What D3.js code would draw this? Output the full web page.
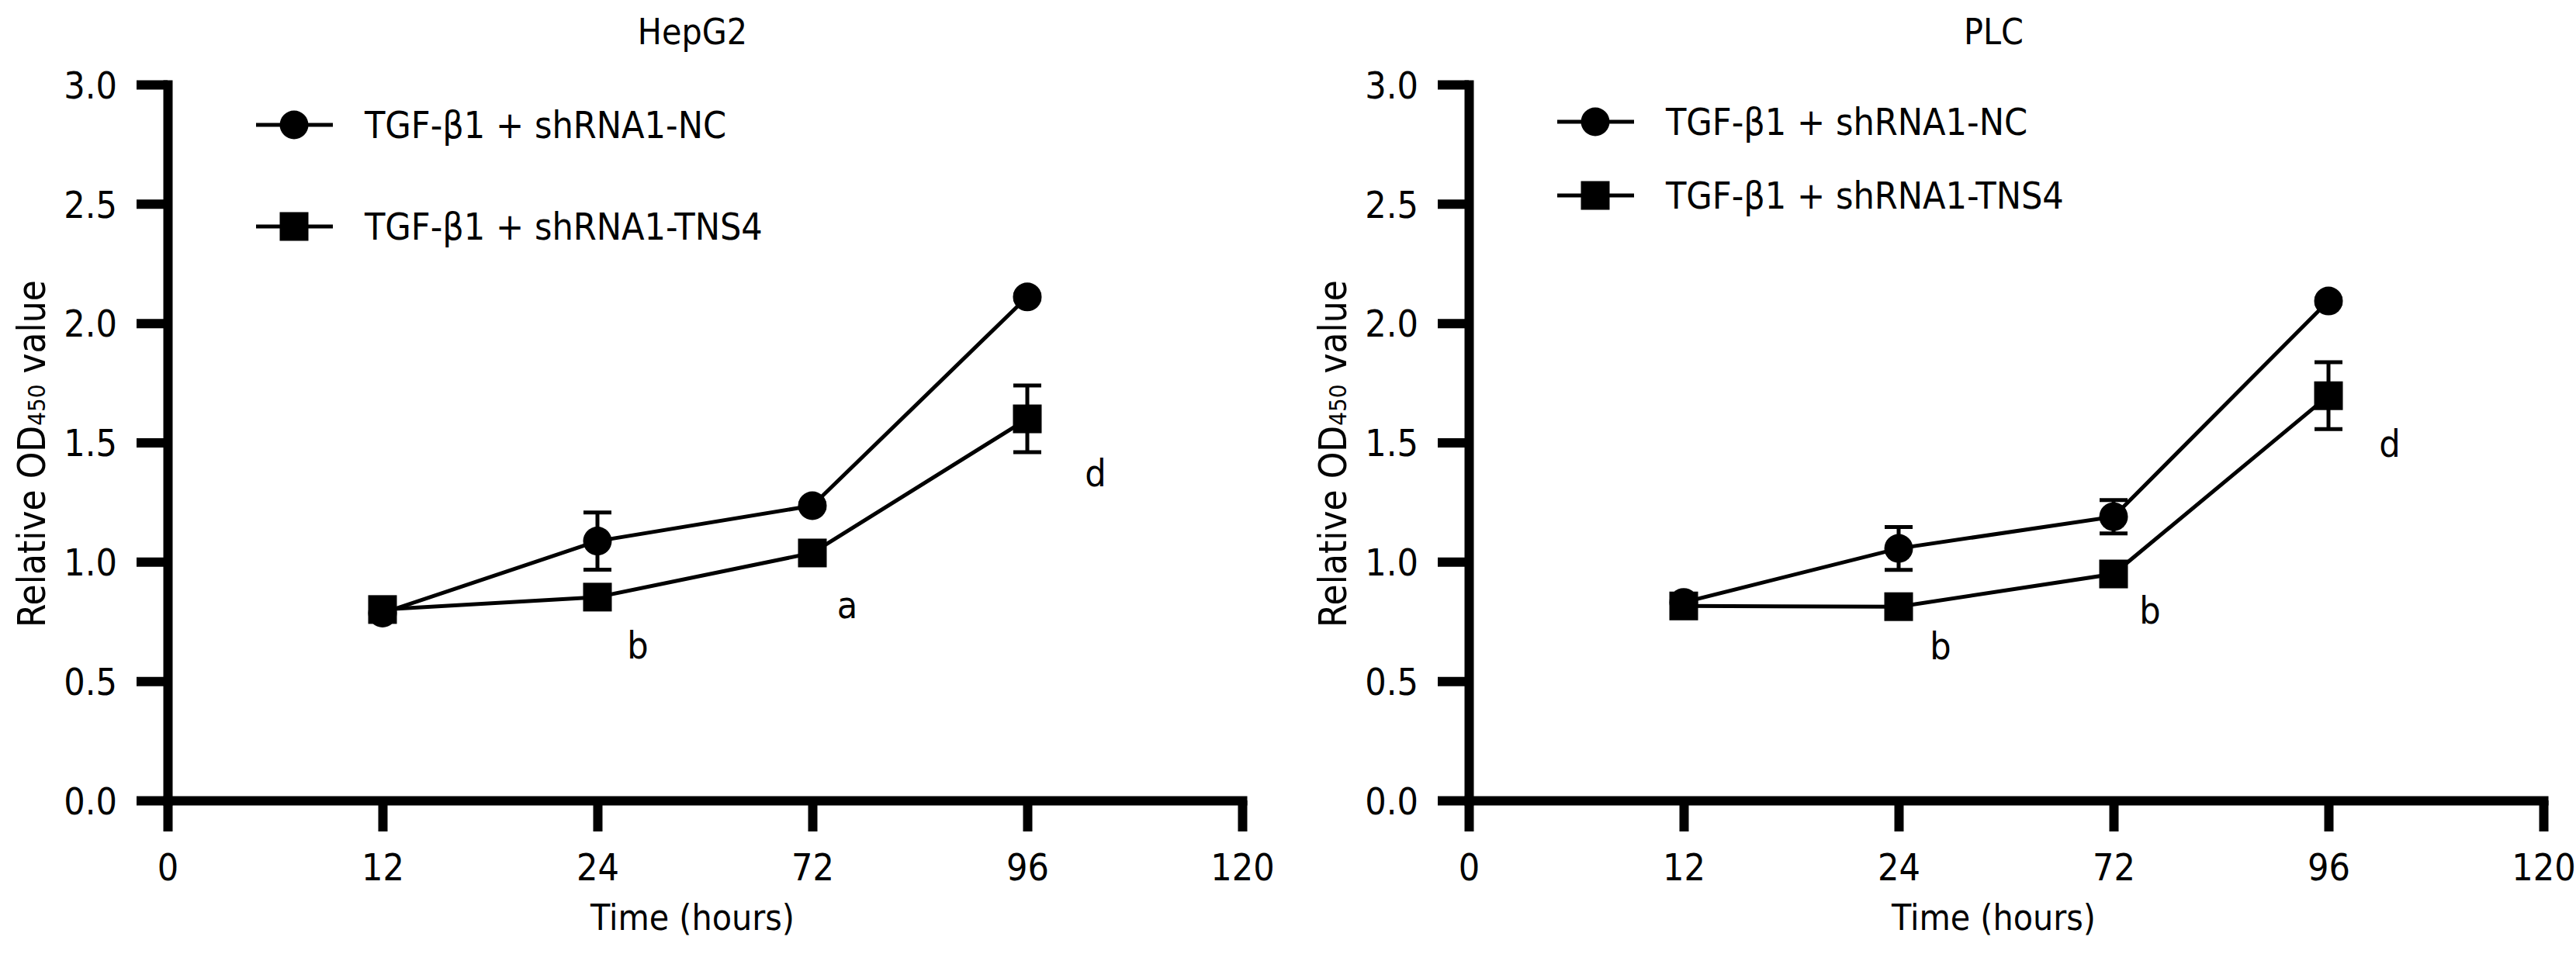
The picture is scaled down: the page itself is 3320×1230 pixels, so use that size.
<!DOCTYPE html>
<html>
<head>
<meta charset="utf-8">
<script src="https://cdn.jsdelivr.net/npm/d3@7"></script>
<style>
  body { margin: 0; background: #fff; }
  svg text { font-family: "DejaVu Sans Condensed", "DejaVu Sans", sans-serif; font-stretch: condensed; fill: #000; }
</style>
</head>
<body>
<script>
// categories and series
const timeLabels = ["0", "12", "24", "72", "96", "120"];
const yTickValues = [0, 0.5, 1.0, 1.5, 2.0, 2.5, 3.0];
const seriesNames = ["TGF-β1 + shRNA1-NC", "TGF-β1 + shRNA1-TNS4"];
const sampleTimes = ["12", "24", "72", "96"];

// HepG2
const hepg2NC = [0.785, 1.087, 1.235, 2.11];
const hepg2NCErr = [0.01, 0.12, 0.01, 0.01];
const hepg2TNS4 = [0.80, 0.852, 1.037, 1.599];
const hepg2TNS4Err = [0.01, 0.01, 0.01, 0.14];
const hepg2Letters = ["", "b", "a", "d"];

// PLC
const plcNC = [0.83, 1.056, 1.189, 2.093];
const plcNCErr = [0.01, 0.09, 0.07, 0.01];
const plcTNS4 = [0.815, 0.812, 0.949, 1.696];
const plcTNS4Err = [0.01, 0.01, 0.01, 0.14];
const plcLetters = ["", "b", "b", "d"];

const width = 3320, height = 1230;

const svg = d3.select("body").append("svg")
  .attr("width", width)
  .attr("height", height);

const panels = [
  {
    title: "HepG2", nc: hepg2NC, ncErr: hepg2NCErr, tns: hepg2TNS4, tnsErr: hepg2TNS4Err,
    letters: hepg2Letters, left: 216,
    legendY: [161, 292],
    letterOffset: [[0, 0], [52, 79], [45, 84], [88, 87]]
  },
  {
    title: "PLC", nc: plcNC, ncErr: plcNCErr, tns: plcTNS4, tnsErr: plcTNS4Err,
    letters: plcLetters, left: 1893,
    legendY: [157, 252],
    letterOffset: [[0, 0], [54, 68], [47, 64], [79, 79]]
  }
];

const plotW = 1385, plotTop = 109, plotBottom = 1032;

panels.forEach(p => {
  const x = d3.scalePoint().domain(timeLabels).range([p.left, p.left + plotW]);
  const y = d3.scaleLinear().domain([0, 3]).range([plotBottom, plotTop]);
  const g = svg.append("g");

  // axes
  const xAxis = g.append("g")
    .attr("transform", `translate(0,${plotBottom})`)
    .call(d3.axisBottom(x).tickSize(40).tickSizeOuter(0));
  const yAxis = g.append("g")
    .attr("transform", `translate(${p.left},0)`)
    .call(d3.axisLeft(y).tickValues(yTickValues).tickFormat(d3.format(".1f")).tickSize(40).tickSizeOuter(0));

  [xAxis, yAxis].forEach(a => {
    a.select(".domain").attr("stroke", "#000").attr("stroke-width", 12).attr("stroke-linecap", "square");
    a.selectAll(".tick line").attr("stroke", "#000").attr("stroke-width", 12);
    a.selectAll(".tick text").attr("font-size", 48).attr("fill", "#000");
  });
  xAxis.selectAll(".tick text").attr("y", 103).attr("dy", null);
  yAxis.selectAll(".tick text").attr("x", -65).attr("dy", "0.36em");

  // titles
  const cx = p.left + plotW / 2 - 16;
  g.append("text").attr("x", cx).attr("y", 57)
    .attr("text-anchor", "middle").attr("font-size", 46).text(p.title);
  g.append("text").attr("x", cx).attr("y", 1199)
    .attr("text-anchor", "middle").attr("font-size", 46).text("Time (hours)");
  const yl = g.append("text")
    .attr("transform", `translate(${p.left - 158},585) rotate(-90)`)
    .attr("text-anchor", "middle").attr("font-size", 49);
  yl.append("tspan").text("Relative OD");
  yl.append("tspan").attr("font-size", 31).text("450");
  yl.append("tspan").text(" value");

  const series = [
    { vals: p.nc, err: p.ncErr, shape: "circle" },
    { vals: p.tns, err: p.tnsErr, shape: "square" }
  ];

  const line = d3.line().x(d => x(d.t)).y(d => y(d.v));

  series.forEach(s => {
    const pts = sampleTimes.map((t, i) => ({ t, v: s.vals[i], e: s.err[i] }));
    const sg = g.append("g");

    // error bars
    sg.selectAll("path.err").data(pts).join("path")
      .attr("class", "err")
      .attr("fill", "none").attr("stroke", "#000").attr("stroke-width", 5)
      .attr("d", d => {
        const cxp = x(d.t), y1 = y(d.v + d.e), y0 = y(d.v - d.e);
        return `M${cxp - 18},${y1}H${cxp + 18}M${cxp},${y1}V${y0}M${cxp - 18},${y0}H${cxp + 18}`;
      });

    sg.append("path").datum(pts)
      .attr("fill", "none").attr("stroke", "#000").attr("stroke-width", 5)
      .attr("d", line);

    if (s.shape === "circle") {
      sg.selectAll("circle").data(pts).join("circle")
        .attr("cx", d => x(d.t)).attr("cy", d => y(d.v)).attr("r", 18.5).attr("fill", "#000");
    } else {
      sg.selectAll("rect").data(pts).join("rect")
        .attr("x", d => x(d.t) - 18.5).attr("y", d => y(d.v) - 18.5)
        .attr("width", 37).attr("height", 37).attr("fill", "#000");
    }
  });

  // significance letters
  g.selectAll("text.sig").data(sampleTimes.map((t, i) => ({ t, v: p.tns[i], l: p.letters[i], o: p.letterOffset[i] })).filter(d => d.l))
    .join("text").attr("class", "sig")
    .attr("x", d => x(d.t) + d.o[0]).attr("y", d => y(d.v) + d.o[1])
    .attr("text-anchor", "middle").attr("font-size", 48)
    .text(d => d.l);

  // legend
  const lx = p.left + 163;
  seriesNames.forEach((name, i) => {
    const ly = p.legendY[i];
    const lg = g.append("g");
    lg.append("line").attr("x1", lx - 49).attr("x2", lx + 50).attr("y1", ly).attr("y2", ly)
      .attr("stroke", "#000").attr("stroke-width", 5);
    if (i === 0) {
      lg.append("circle").attr("cx", lx).attr("cy", ly).attr("r", 18.5).attr("fill", "#000");
    } else {
      lg.append("rect").attr("x", lx - 18.5).attr("y", ly - 18.5).attr("width", 37).attr("height", 37).attr("fill", "#000");
    }
    lg.append("text").attr("x", p.left + 254).attr("y", ly).attr("dy", "0.36em")
      .attr("font-size", 48).text(name);
  });
});
</script>
</body>
</html>
